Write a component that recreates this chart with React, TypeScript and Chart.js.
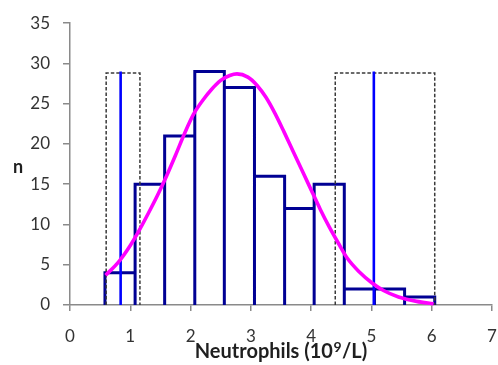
import React, { useEffect, useRef } from "react";
import { Chart, registerables } from "chart.js";

Chart.register(...registerables);

// Histogram bin edges and counts
const binEdges = [0.58, 1.08, 1.57, 2.07, 2.56, 3.06, 3.56, 4.05, 4.55, 5.05, 5.55, 6.05];
const binCounts = [4, 15, 21, 29, 27, 16, 12, 15, 2, 2, 1];

// Fitted distribution curve
const curveX = [0.59, 0.8, 1.0, 1.15, 1.3, 1.45, 1.6, 1.75, 1.9, 2.05, 2.2, 2.35, 2.5, 2.65, 2.77, 2.95, 3.1, 3.25, 3.4, 3.55, 3.7, 3.85, 4.0, 4.15, 4.3, 4.45, 4.6, 4.8, 5.0, 5.2, 5.45, 5.75, 6.03];
const curveY = [3.7, 5.3, 7.4, 9.3, 11.4, 13.6, 16.0, 18.6, 21.3, 23.7, 25.4, 26.8, 27.9, 28.5, 28.7, 28.3, 27.3, 25.8, 23.8, 21.5, 19.1, 16.7, 14.3, 11.9, 9.7, 7.7, 5.8, 4.1, 2.8, 1.8, 1.0, 0.45, 0.15];

// Reference markers and dashed bands
const markerX = [0.84, 5.04];
const markerTop = 29;
const leftBand = [0.6, 1.16];
const rightBand = [4.4, 6.05];
const bandTop = 28.8;

const xMin = 0, xMax = 7, xStep = 1;
const yMin = 0, yMax = 35, yStep = 5;

const xTitle = ["Neutrophils (10", "9", "/L)"];
const yTitle = "n";

const TEXT = "#333333";
const TITLE = "#1f1f1f";
const AXIS = "#8a8a8a";

function histogramOutline() {
  const pts: { x: number; y: number }[] = [];
  for (let i = 0; i < binCounts.length; i++) {
    const x0 = binEdges[i], x1 = binEdges[i + 1], h = binCounts[i];
    pts.push({ x: x0, y: 0 }, { x: x0, y: h }, { x: x1, y: h }, { x: x1, y: 0 });
  }
  return pts;
}

function band(range: number[], top: number) {
  return [
    { x: range[0], y: 0 },
    { x: range[0], y: top },
    { x: range[1], y: top },
    { x: range[1], y: 0 },
  ];
}

// Axis titles: "n" is drawn upright, the x title carries a superscript exponent
const axisTitlePlugin = {
  id: "axisTitles",
  afterDraw(chart: any) {
    const { ctx, chartArea } = chart;
    ctx.save();
    ctx.fillStyle = TITLE;
    ctx.textBaseline = "alphabetic";

    ctx.font = "bold 18px Lato";
    ctx.textAlign = "center";
    ctx.fillText(yTitle, 18, (chartArea.top + chartArea.bottom) / 2 + 9);

    const mainFont = "bold 20px Lato";
    const supFont = "bold 14px Lato";
    ctx.textAlign = "left";
    ctx.font = mainFont;
    const w0 = ctx.measureText(xTitle[0]).width;
    const w2 = ctx.measureText(xTitle[2]).width;
    ctx.font = supFont;
    const w1 = ctx.measureText(xTitle[1]).width + 1;
    const total = w0 + w1 + w2;
    let x = (chartArea.left + chartArea.right) / 2 - total / 2;
    const base = chartArea.bottom + 53;
    ctx.font = mainFont;
    ctx.fillText(xTitle[0], x, base);
    x += w0;
    ctx.font = supFont;
    ctx.fillText(xTitle[1], x + 0.5, base - 6);
    x += w1;
    ctx.font = mainFont;
    ctx.fillText(xTitle[2], x, base);
    ctx.restore();
  },
};

export default function App() {
  const ref = useRef<HTMLCanvasElement>(null);

  useEffect(() => {
    if (!ref.current) return;
    const line = (data: any[], color: string, width: number, extra: any = {}) => ({
      data,
      borderColor: color,
      borderWidth: width,
      pointRadius: 0,
      fill: false,
      tension: 0,
      borderJoinStyle: "miter",
      clip: false,
      ...extra,
    });

    const datasets: any[] = [
      line(curveX.map((x, i) => ({ x, y: curveY[i] })), "#ff00ff", 3.6, {
        cubicInterpolationMode: "monotone",
        borderJoinStyle: "round",
      }),
      ...markerX.map((x) => line([{ x, y: 0 }, { x, y: markerTop }], "#0000ff", 2.6)),
      line(band(leftBand, bandTop), "#3a3a3a", 1.5, { borderDash: [3.5, 2] }),
      line(band(rightBand, bandTop), "#3a3a3a", 1.5, { borderDash: [3.5, 2] }),
      line(histogramOutline(), "#000094", 3),
    ];

    const chart = new Chart(ref.current, {
      type: "line",
      data: { datasets },
      plugins: [axisTitlePlugin],
      options: {
        responsive: false,
        animation: false,
        events: [],
        layout: { padding: { top: 23, right: 6, bottom: 0, left: 0 } },
        plugins: { legend: { display: false }, tooltip: { enabled: false } },
        scales: {
          x: {
            type: "linear",
            min: xMin,
            max: xMax,
            ticks: { stepSize: xStep, color: TEXT, font: { family: "Lato", size: 17 }, padding: 15, maxRotation: 0 },
            grid: { display: true, drawOnChartArea: false, tickLength: 6, color: AXIS, lineWidth: 1.5 },
            border: { color: AXIS, width: 1.5 },
            afterFit(scale: any) {
              scale.height = 60;
              scale.paddingRight = 0;
              scale.paddingLeft = 0;
            },
          },
          y: {
            min: yMin,
            max: yMax,
            ticks: { stepSize: yStep, color: TEXT, font: { family: "Lato", size: 17 }, padding: 13 },
            grid: { display: true, drawOnChartArea: false, tickLength: 7, color: AXIS, lineWidth: 1.5 },
            border: { color: AXIS, width: 1.5 },
            afterFit(scale: any) {
              scale.width = 70;
            },
          },
        },
      } as any,
    });
    return () => chart.destroy();
  }, []);

  return (
    <div style={{ position: "fixed", left: 0, top: 0, width: 498, height: 365, background: "#fff" }}>
      <canvas ref={ref} width={498} height={365} style={{ display: "block" }} />
    </div>
  );
}
